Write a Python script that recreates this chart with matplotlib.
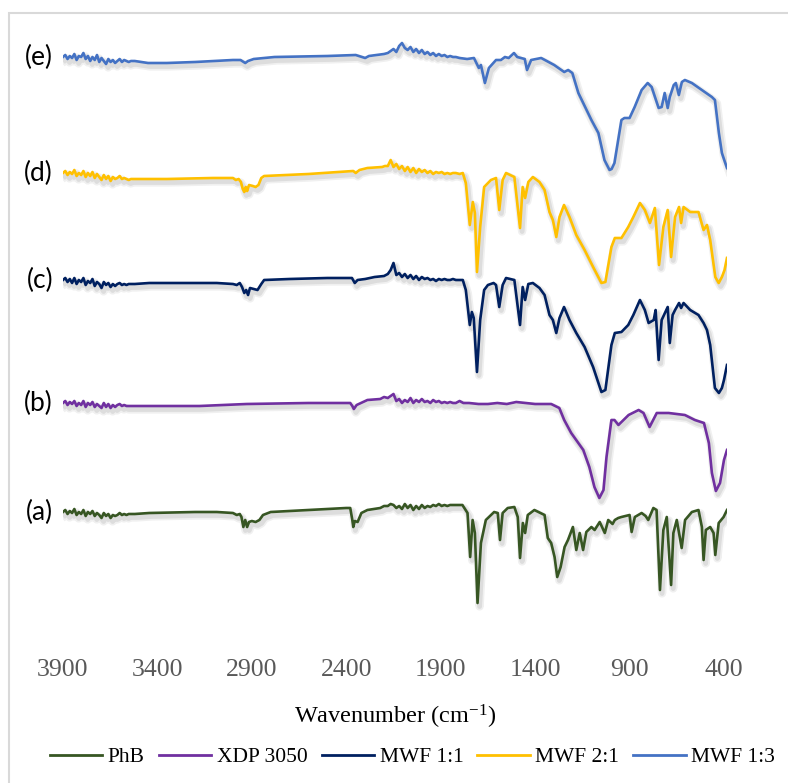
import numpy as np
import matplotlib
matplotlib.use("Agg")
import matplotlib.pyplot as plt
import matplotlib.patheffects as pe
from matplotlib.lines import Line2D
from matplotlib.patches import Rectangle

plt.rcParams["font.family"] = ["Liberation Serif", "DejaVu Serif"]
plt.rcParams["mathtext.fontset"] = "custom"
plt.rcParams["mathtext.rm"] = "Liberation Serif"
plt.rcParams["mathtext.it"] = "Liberation Serif:italic"

# FTIR spectra, stacked with offsets (wavenumber cm-1, transmittance a.u.)
# noisy stretches are sampled on their own grids
wn_left = [3900, 3888, 3876, 3864, 3852, 3840, 3828, 3816, 3804, 3792, 3780, 3768, 3756, 3744,
           3732, 3720, 3708, 3696, 3684, 3672, 3660, 3648, 3636, 3624, 3612, 3600, 3588, 3576,
           3564, 3552, 3540]
wn_mid = [2180, 2165, 2150, 2135, 2120, 2105, 2090, 2075, 2060, 2045, 2030, 2015, 2000, 1985,
          1970, 1955, 1940, 1925, 1910, 1895, 1880, 1865, 1850, 1835, 1820]

phb_left = [138, 140, 136, 139, 137, 141, 135, 138, 136, 140, 134, 138, 136, 139, 134, 137,
            135, 132, 137, 134, 136, 132, 135, 134, 135, 137, 135, 136, 135, 136, 136]
phb_mid = [144, 146, 145, 142, 144, 141, 146, 142, 145, 140, 144, 141, 145, 142, 144, 143,
           145, 144, 146, 144, 145, 144, 145, 145, 145]
phb = [(3520,136),(3443,137),(3200,138),(3086,138),(3000,137),(2980,135),(2964,136),(2955,133),
       (2945,123),(2935,130),(2925,123),(2915,128),(2900,129),(2880,128),(2860,130),(2841,135),
       (2800,138),(2600,140),(2400,142),(2379,142),(2368,130),(2363,123),(2355,129),(2340,128),
       (2320,137),(2288,140),(2220,142),(2200,144),(1800,145),(1785,145),(1758,137),(1744,93),
       (1731,130),(1719,117),(1705,47),(1687,107),(1661,130),(1617,138),(1598,137),(1586,110),
       (1572,137),(1545,142),(1510,143),(1492,133),(1480,92),(1465,127),(1453,117),(1439,135),
       (1404,140),(1350,135),(1333,112),(1315,107),(1297,93),(1283,73),(1265,83),(1244,103),
       (1226,110),(1200,123),(1182,100),(1164,117),(1146,100),(1129,118),(1102,123),(1085,120),
       (1058,128),(1031,117),(1013,130),(990,126),(978,130),(960,132),(943,133),(900,135),
       (889,118),(872,133),(836,137),(815,134),(801,130),(774,142),(757,140),(739,60),(721,120),
       (703,133),(680,65),(668,117),(650,130),(624,102),(606,130),(570,138),(535,140),(517,123),
       (508,90),(496,120),(473,123),(455,117),(446,95),(428,127),(402,133),(384,140)]

xdp_left = [247, 249, 245, 248, 246, 249, 244, 247, 245, 249, 243, 247, 245, 248, 243, 246,
            244, 242, 247, 243, 246, 242, 245, 243, 245, 246, 244, 245, 244, 244, 244]
xdp_mid = [252, 254, 256, 249, 251, 247, 250, 248, 252, 247, 250, 248, 251, 248, 249, 247,
           250, 248, 249, 247, 248, 247, 248, 247, 247]
xdp = [(3520,244),(3443,244),(3177,244),(2927,246),(2600,247),(2379,247),(2368,244),(2360,241),
       (2345,245),(2288,250),(2220,251),(2200,253),(1800,249),(1780,247),(1750,247),(1700,246),
       (1650,246),(1600,247),(1550,246),(1500,248),(1450,247),(1400,246),(1350,246),(1315,246),
       (1272,242),(1246,230),(1209,217),(1145,200),(1113,183),(1086,163),(1060,152),(1038,160),
       (1022,193),(996,230),(980,230),(959,225),(905,235),(852,240),(826,237),(794,223),
       (756,237),(693,237),(607,235),(554,230),(506,227),(480,207),(464,177),(443,159),
       (421,167),(400,190),(384,200)]

mwf11_left = [370, 372, 368, 371, 367, 372, 366, 370, 368, 372, 365, 369, 367, 371, 364, 368,
              366, 362, 368, 365, 367, 363, 366, 364, 366, 367, 365, 366, 365, 366, 366]
mwf11_mid = [376, 380, 387, 375, 377, 373, 376, 372, 375, 371, 374, 370, 373, 371, 372, 370,
             371, 369, 371, 370, 371, 370, 370, 371, 370]
mwf11 = [(3520,366),(3443,367),(3200,367),(3086,367),(3000,366),(2980,365),(2964,367),
         (2952,363),(2940,357),(2930,360),(2920,355),(2910,362),(2890,361),(2870,360),
         (2850,366),(2835,370),(2700,371),(2500,372),(2370,372),(2355,367),(2340,370),
         (2300,371),(2250,373),(2200,374),(1800,370),(1783,370),(1767,360),(1746,325),
         (1735,338),(1725,332),(1708,278),(1691,330),(1670,360),(1650,365),(1620,367),
         (1607,365),(1590,343),(1572,365),(1554,372),(1510,370),(1480,325),(1466,363),
         (1453,350),(1436,366),(1412,367),(1377,362),(1350,355),(1324,335),(1306,330),
         (1288,317),(1271,332),(1247,343),(1218,330),(1182,317),(1138,303),(1093,283),
         (1049,258),(1028,260),(996,305),(978,317),(943,318),(907,325),(880,335),(845,350),
         (819,340),(799,327),(772,330),(762,340),(746,290),(730,330),(698,343),(687,307),
         (672,335),(659,340),(638,347),(627,342),(614,347),(579,340),(535,335),(508,327),
         (490,320),(473,305),(448,262),(427,257),(411,262),(400,270),(384,285)]

mwf21_left = [477, 479, 475, 478, 476, 480, 474, 477, 475, 479, 473, 477, 474, 478, 472, 476,
              473, 470, 475, 471, 474, 469, 473, 471, 472, 474, 471, 472, 471, 470, 471]
mwf21_mid = [484, 490, 483, 486, 481, 484, 479, 483, 478, 482, 477, 481, 478, 480, 477, 479,
             476, 478, 477, 478, 476, 477, 476, 477, 477]
mwf21 = [(3520,471),(3350,471),(3107,472),(3000,472),(2985,470),(2970,471),(2958,468),
         (2948,461),(2940,458),(2932,463),(2925,459),(2915,465),(2895,464),(2880,463),
         (2865,465),(2850,472),(2835,474),(2600,476),(2363,479),(2350,477),(2330,480),
         (2288,482),(2210,483),(2195,484),(1800,476),(1783,477),(1767,467),(1746,425),
         (1730,448),(1719,437),(1708,378),(1691,423),(1670,463),(1634,470),(1607,472),
         (1590,440),(1572,470),(1554,477),(1510,473),(1480,422),(1466,463),(1453,452),
         (1436,468),(1412,473),(1377,468),(1350,460),(1324,438),(1306,430),(1288,413),
         (1271,433),(1247,445),(1218,433),(1182,415),(1138,400),(1093,383),(1049,367),
         (1028,368),(996,403),(978,412),(943,412),(907,423),(880,433),(845,447),(819,440),
         (792,427),(766,442),(744,385),(721,423),(698,440),(680,393),(659,433),(638,443),
         (627,427),(614,443),(579,438),(535,438),(508,420),(490,425),(473,410),(446,373),
         (428,367),(411,373),(397,380),(384,392)]

mwf13_left = [593, 595, 591, 594, 592, 596, 590, 594, 593, 597, 591, 594, 589, 593, 590, 595,
              588, 592, 589, 586, 591, 588, 590, 587, 589, 591, 588, 590, 589, 588, 589]
mwf13_mid = [597, 599, 601, 598, 604, 607, 602, 600, 603, 598, 601, 597, 600, 596, 598, 595,
             597, 594, 596, 594, 595, 593, 594, 593, 593]
mwf13 = [(3520,589),(3450,587),(3350,587),(3200,588),(3000,590),(2960,590),(2935,587),
         (2920,589),(2890,591),(2780,593),(2500,594),(2350,595),(2300,592),(2280,594),
         (2200,596),(1800,592),(1760,591),(1724,592),(1698,582),(1687,585),(1666,567),
         (1645,582),(1607,590),(1581,590),(1560,593),(1540,592),(1512,597),(1495,593),
         (1475,592),(1455,591),(1443,580),(1421,590),(1368,592),(1299,585),(1246,578),
         (1225,580),(1203,577),(1171,557),(1102,530),(1065,517),(1033,490),(1006,480),
         (995,481),(980,487),(943,530),(927,532),(900,532),(873,543),(836,560),(804,567),
         (783,563),(746,542),(730,543),(714,557),(698,542),(687,553),(666,565),(655,567),
         (639,555),(623,568),(607,570),(570,567),(517,560),(464,553),(448,550),(427,517),
         (411,497),(395,488),(384,482)]

names = ["PhB", "XDP 3050", "MWF 1:1", "MWF 2:1", "MWF 1:3"]
tags = ["(a)", "(b)", "(c)", "(d)", "(e)"]
spectra = [(phb, phb_left, phb_mid), (xdp, xdp_left, xdp_mid), (mwf11, mwf11_left, mwf11_mid),
           (mwf21, mwf21_left, mwf21_mid), (mwf13, mwf13_left, mwf13_mid)]
colors = ["#375623", "#7030A0", "#002060", "#FFC000", "#4472C4"]
ticks = [3900, 3400, 2900, 2400, 1900, 1400, 900, 400]


def assemble(body, left, mid):
    wn = np.concatenate([wn_left, wn_mid, [p[0] for p in body]])
    t = np.concatenate([left, mid, [p[1] for p in body]])
    order = np.argsort(-wn)
    return wn[order], t[order]


fig = plt.figure(figsize=(7.88, 7.83), dpi=100)
ax = fig.add_axes([63 / 788, 1 - 650 / 783, 664 / 788, 630 / 783])

shadow = [pe.SimpleLineShadow(offset=(1.5, -2.5), shadow_color="k", alpha=0.06, linewidth=6),
          pe.SimpleLineShadow(offset=(1.5, -2.5), shadow_color="k", alpha=0.08, linewidth=3.5),
          pe.Normal()]

handles = []
for name, tag, parts, c in zip(names, tags, spectra, colors):
    wn, t = assemble(*parts)
    ax.plot(wn, t, color=c, lw=1.9, solid_joinstyle="round", path_effects=shadow)
    ax.annotate(tag, xy=(0, t[0]), xycoords=("axes fraction", "data"),
                xytext=(-10, 0), textcoords="offset pixels", ha="right", va="center",
                fontsize=19, family=["Lato", "DejaVu Sans"])
    handles.append(Line2D([], [], color=c, lw=2))

ax.set_xlim(3900, 384)
ax.set_ylim(0, 630)
ax.set_xticks(ticks)
ax.set_xticklabels([str(v) for v in ticks], fontsize=18.5, color="#595959",
                   family=["Liberation Serif"])
ax.tick_params(axis="x", length=0, pad=6.5)
ax.set_yticks([])
for s in ax.spines.values():
    s.set_visible(False)
ax.set_xlabel("Wavenumber (cm$^{\\mathrm{-1}}$)", fontsize=17.5, labelpad=16)

fig.legend(handles, names, loc="center", bbox_to_anchor=(412.5 / 788, 1 - 757 / 783),
           ncol=5, frameon=False, fontsize=15.5, handlelength=2.45, handletextpad=0.25,
           columnspacing=0.65)

fig.add_artist(Rectangle((9 / 788, -0.1), 1.2, 1.1 - 13 / 783, transform=fig.transFigure,
                         fill=False, ec="#d9d9d9", lw=1.5))

fig.savefig("out.png", dpi=100)
